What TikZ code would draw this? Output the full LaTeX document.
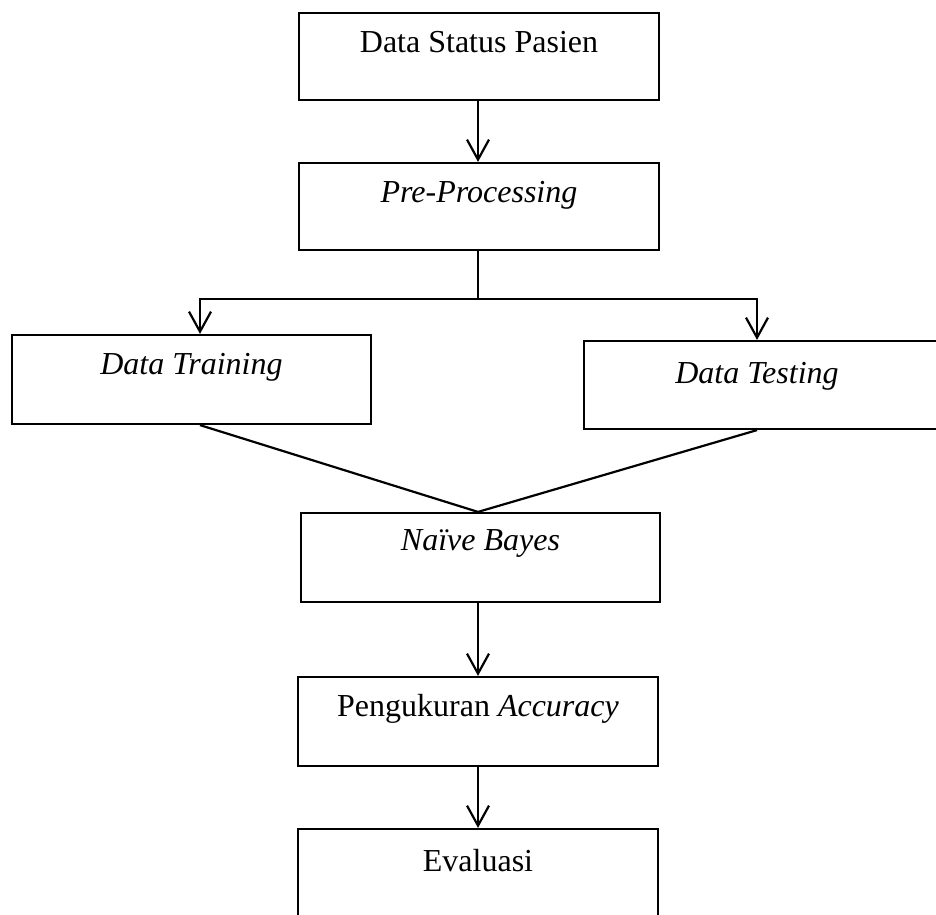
\documentclass[tikz,border=0pt]{standalone}
\usepackage{fontspec}
\setmainfont{Liberation Serif}
\usetikzlibrary{arrows.meta,calc}
\begin{document}
\begin{tikzpicture}[x=1pt,y=-1pt,
  box/.style={draw,line width=2.2pt,rectangle,inner sep=0pt},
  lbl/.style={font=\fontsize{32}{37}\selectfont,inner sep=0pt,anchor=center},
  ln/.style={line width=2.2pt},
  arr/.style={line width=2.2pt,-{Straight Barb[length=20pt,width=22pt,line width=2.2pt]}}]
\useasboundingbox (0,0) rectangle (936,914);
\fill[white] (0,0) rectangle (936,914);
% boxes
\node[box,minimum width=360pt,minimum height=87pt] (b1) at (479,56.5) {};
\node[box,minimum width=360pt,minimum height=87pt] (b2) at (479,206.5) {};
\node[box,minimum width=359pt,minimum height=89pt] (tr) at (191.5,379.5) {};
\node[box,minimum width=360pt,minimum height=88pt] (te) at (764,385) {};
\node[box,minimum width=359pt,minimum height=89pt] (nb) at (480.5,557.5) {};
\node[box,minimum width=360pt,minimum height=89pt] (pa) at (478,721.5) {};
\node[box,minimum width=360pt,minimum height=89pt] (ev) at (478,873.5) {};
% labels
\node[lbl] (t1) at ($(b1.north)+(0,30)$) {Data Status Pasien};
\node[lbl] (t2) at ($(b2.north)+(0,33)$) {\itshape Pre-Processing};
\node[lbl] (t3) at ($(tr.north)+(0,33)$) {\itshape Data Training};
\node[lbl] (t4) at ($(te.north)+(-7,36)$) {\itshape Data Testing};
\node[lbl] (t5) at ($(nb.north)+(0,32)$) {\itshape Naïve Bayes};
\node[lbl] (t6) at ($(pa.north)+(0,33)$) {Pengukuran \itshape Accuracy};
\node[lbl] (t7) at ($(ev.north)+(0,33)$) {Evaluasi};
% connectors
\coordinate (sp) at ($(b2.south)+(-1,48)$);
\coordinate (trin) at ($(tr.north)+(8.5,0)$);
\coordinate (tein) at ($(te.north)+(-7,0)$);
\coordinate (trout) at ($(tr.south)+(8.5,0)$);
\coordinate (teout) at ($(te.south)+(-7,0)$);
\draw[arr] ($(b1.south)+(-1,0)$) -- ($(b2.north)+(-1,0)$);
\draw[ln] ($(b2.south)+(-1,0)$) -- (sp);
\draw[arr] (sp) -| (trin);
\draw[arr] (sp) -| (tein);
\draw[ln] (trout) -- ($(nb.north)+(-2.5,0)$) -- (teout);
\draw[arr] ($(nb.south)+(-2.5,0)$) -- (pa.north);
\draw[arr] (pa.south) -- (ev.north);
\end{tikzpicture}
\end{document}
